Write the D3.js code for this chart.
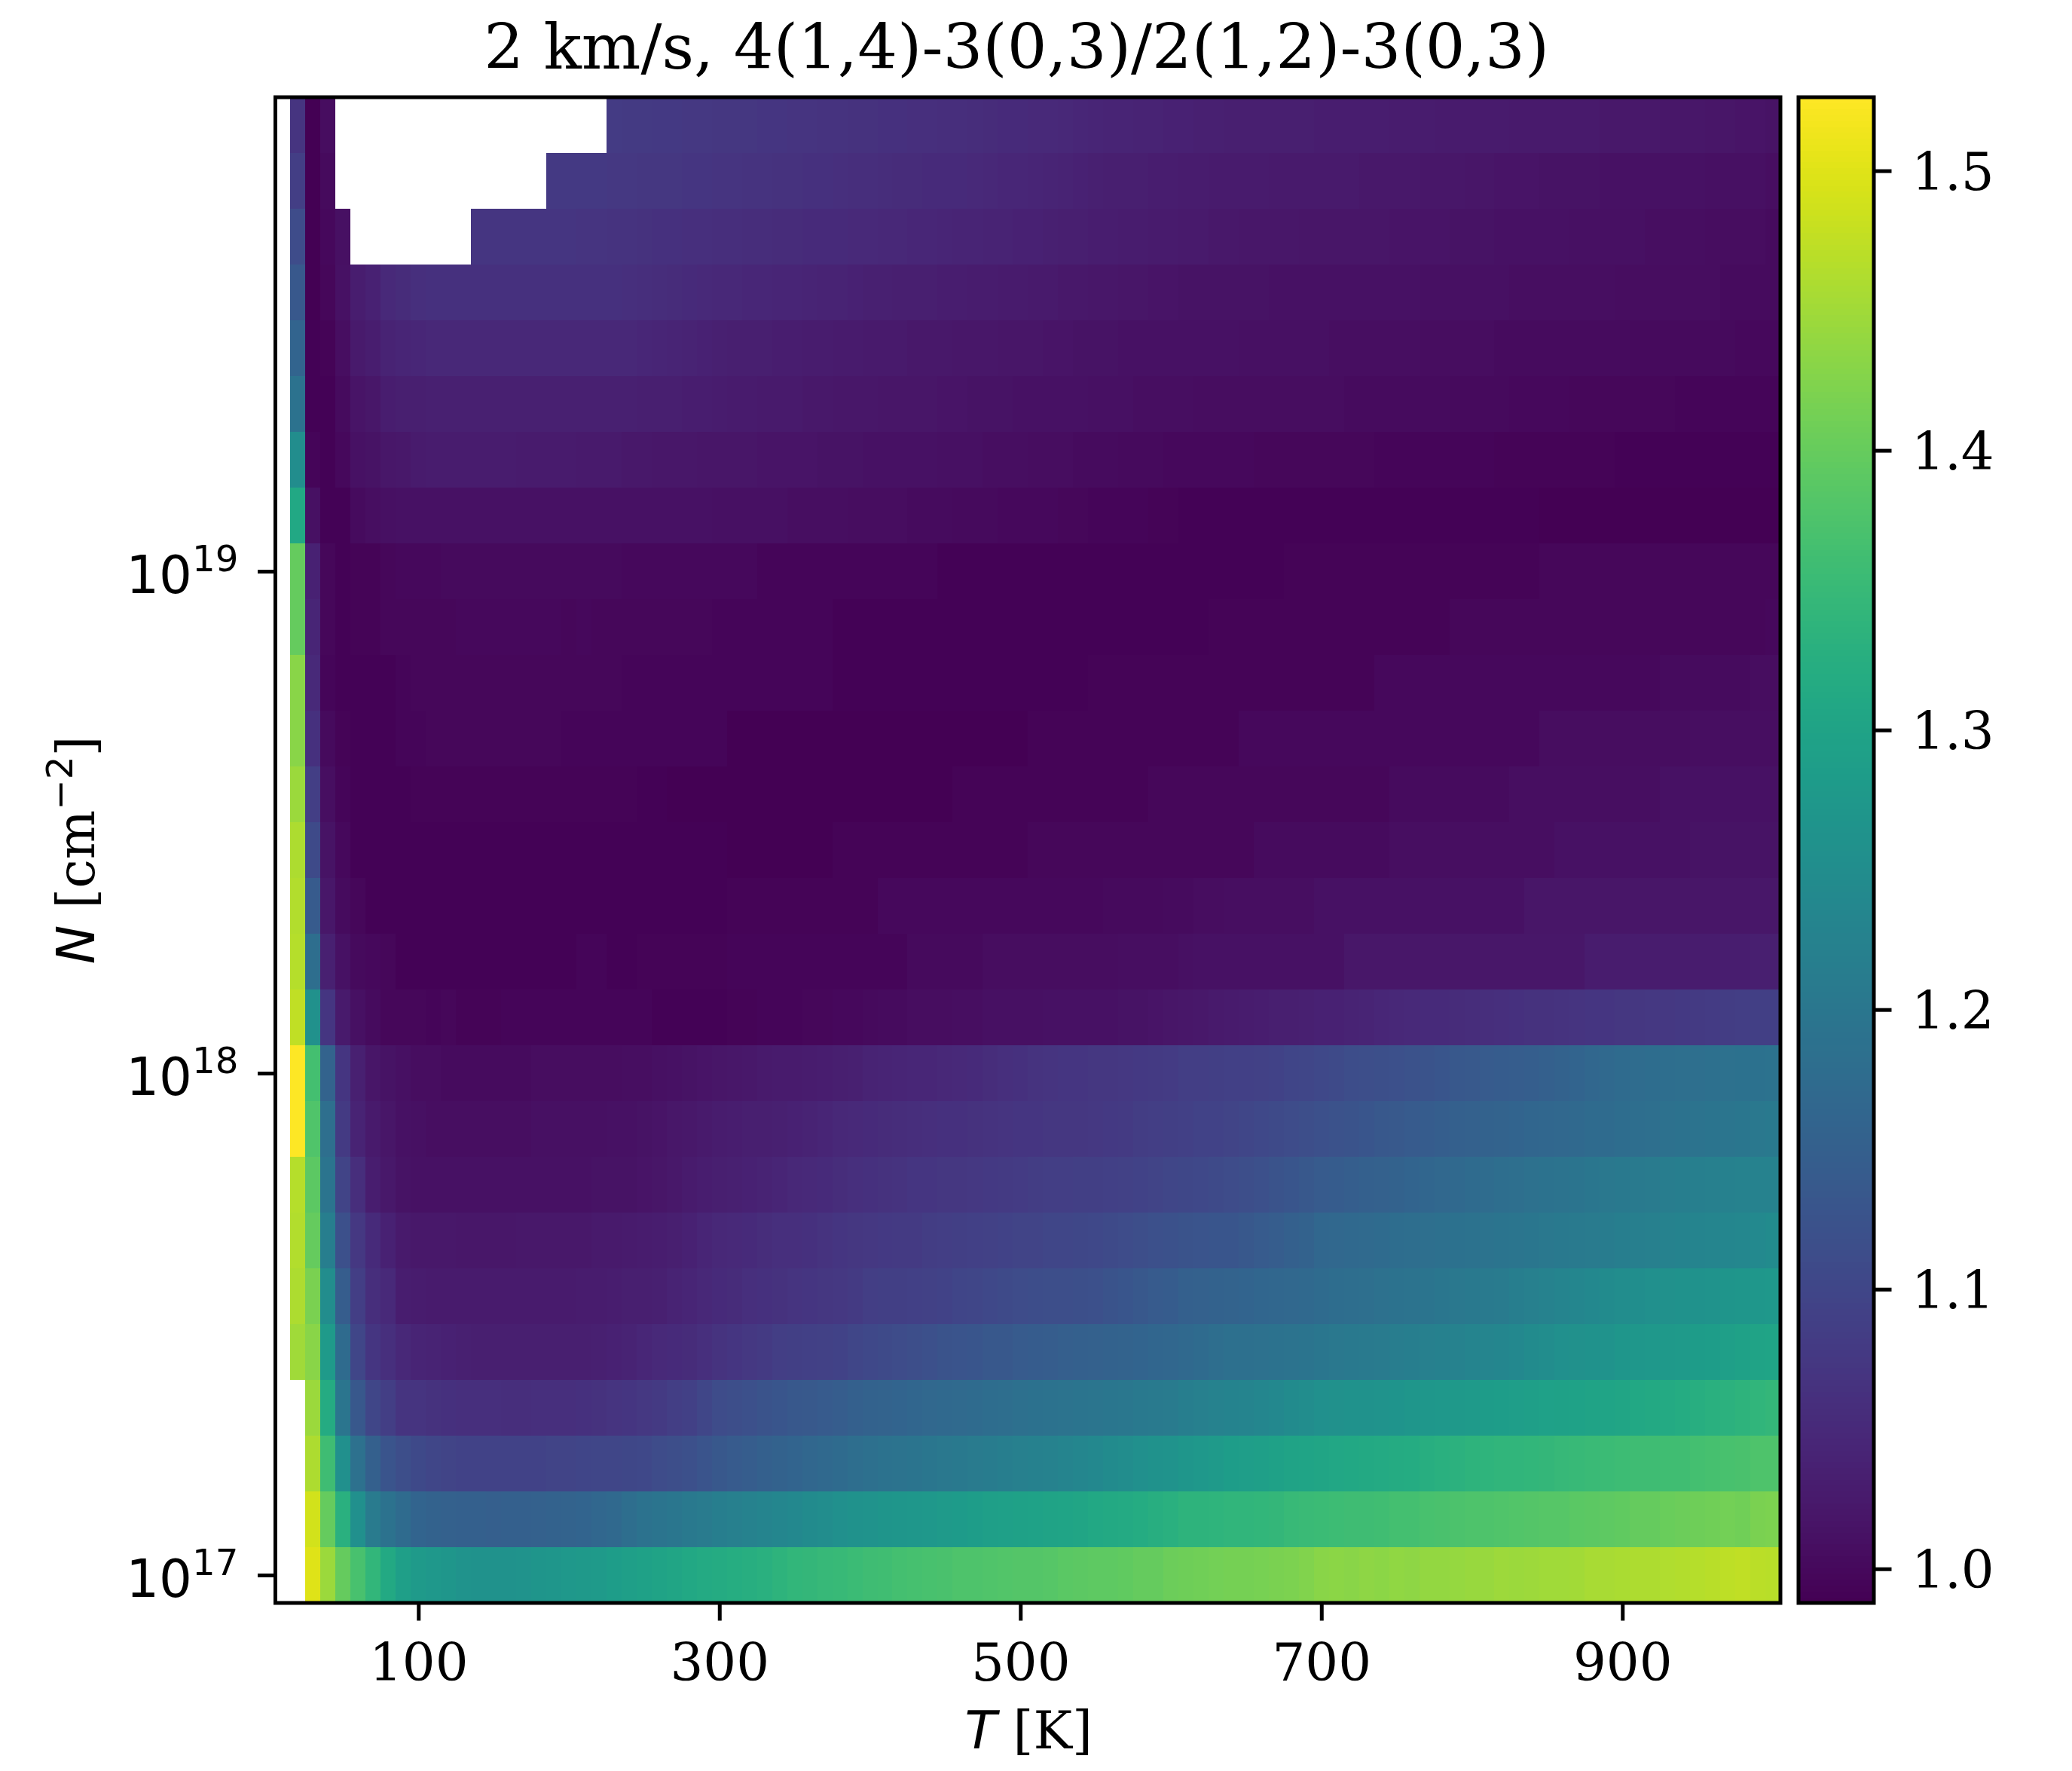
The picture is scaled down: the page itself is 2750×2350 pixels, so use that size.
<!DOCTYPE html>
<html><head><meta charset="utf-8">
<script src="https://cdn.jsdelivr.net/npm/d3@7"></script>
<style>html,body{margin:0;padding:0;background:#fff}svg{display:block}</style>
</head><body><svg id="c" width="2750" height="2350"></svg>
<script>
const TEMPS = d3.range(10, 1001, 10);
const LOG_N = d3.range(0, 27).map(k => 17 + k / 9);
const VMIN = 0.9878, VMAX = 1.5263;
const TITLE = "2 km/s, 4(1,4)-3(0,3)/2(1,2)-3(0,3)";
const X_TICKS = [100, 300, 500, 700, 900];
const Y_TICKS = [17, 18, 19];
const CB_TICKS = [1.0, 1.1, 1.2, 1.3, 1.4, 1.5];

const row00=[null,null,1.5,1.445,1.4,1.37,1.343,1.313,1.29,1.28,1.275,1.27,1.265,1.263,1.262,1.263,1.265,1.268,1.27,1.275,1.278,1.28,1.285,1.29,1.295,1.3,1.305,1.31,1.315,1.318,1.322,1.325,1.33,1.336,1.342,1.345,1.348,1.35,1.355,1.36,1.362,1.365,1.368,1.37,1.372,1.375,1.375,1.378,1.38,1.382,1.383,1.385,1.388,1.39,1.392,1.393,1.395,1.398,1.4,1.405,1.408,1.41,1.412,1.413,1.413,1.416,1.418,1.42,1.425,1.43,1.432,1.43,1.435,1.432,1.436,1.435,1.438,1.44,1.442,1.443,1.443,1.447,1.446,1.448,1.45,1.45,1.452,1.455,1.455,1.458,1.46,1.46,1.462,1.465,1.466,1.468,1.472,1.474,1.47,1.468];
const row01=[null,null,1.49,1.4,1.33,1.255,1.21,1.19,1.175,1.16,1.155,1.152,1.15,1.15,1.148,1.15,1.15,1.152,1.155,1.158,1.16,1.165,1.17,1.18,1.19,1.195,1.2,1.205,1.21,1.215,1.22,1.225,1.23,1.235,1.24,1.245,1.25,1.255,1.26,1.265,1.268,1.27,1.272,1.275,1.28,1.282,1.285,1.29,1.292,1.295,1.298,1.3,1.302,1.305,1.31,1.312,1.315,1.32,1.325,1.33,1.335,1.335,1.337,1.34,1.34,1.342,1.345,1.35,1.352,1.355,1.358,1.36,1.36,1.362,1.365,1.365,1.37,1.372,1.373,1.375,1.375,1.378,1.38,1.382,1.385,1.385,1.388,1.39,1.393,1.395,1.4,1.4,1.403,1.405,1.408,1.41,1.412,1.41,1.418,1.42];
const row02=[null,null,1.46,1.36,1.256,1.187,1.15,1.127,1.116,1.107,1.1,1.097,1.095,1.094,1.094,1.094,1.095,1.095,1.096,1.097,1.098,1.1,1.1,1.103,1.105,1.11,1.115,1.12,1.128,1.135,1.14,1.145,1.15,1.155,1.16,1.165,1.17,1.175,1.18,1.185,1.19,1.193,1.196,1.2,1.203,1.205,1.21,1.212,1.215,1.22,1.222,1.226,1.23,1.235,1.24,1.245,1.25,1.255,1.26,1.265,1.27,1.275,1.28,1.285,1.288,1.29,1.295,1.3,1.303,1.305,1.308,1.31,1.312,1.315,1.318,1.32,1.325,1.33,1.332,1.335,1.337,1.34,1.34,1.342,1.345,1.348,1.35,1.352,1.355,1.358,1.36,1.36,1.362,1.362,1.365,1.368,1.37,1.372,1.375,1.375];
const row03=[null,null,1.445,1.316,1.198,1.133,1.1,1.085,1.068,1.068,1.065,1.062,1.06,1.06,1.06,1.058,1.058,1.06,1.06,1.06,1.062,1.065,1.068,1.07,1.075,1.08,1.085,1.09,1.1,1.11,1.115,1.12,1.125,1.13,1.133,1.137,1.14,1.145,1.15,1.155,1.158,1.16,1.163,1.167,1.17,1.172,1.175,1.178,1.18,1.185,1.188,1.19,1.192,1.195,1.198,1.2,1.202,1.205,1.208,1.21,1.215,1.22,1.225,1.228,1.23,1.235,1.24,1.245,1.25,1.255,1.258,1.26,1.262,1.265,1.267,1.27,1.272,1.275,1.278,1.28,1.283,1.285,1.287,1.29,1.293,1.295,1.298,1.3,1.303,1.305,1.31,1.312,1.315,1.32,1.325,1.33,1.332,1.335,1.34,1.345];
const row04=[null,1.45,1.43,1.28,1.175,1.1,1.07,1.06,1.047,1.042,1.04,1.038,1.036,1.034,1.033,1.033,1.032,1.032,1.032,1.032,1.033,1.035,1.037,1.04,1.045,1.05,1.052,1.055,1.06,1.066,1.07,1.075,1.08,1.085,1.088,1.09,1.092,1.095,1.1,1.105,1.108,1.11,1.115,1.12,1.125,1.128,1.13,1.135,1.135,1.14,1.142,1.145,1.148,1.15,1.152,1.155,1.157,1.16,1.163,1.165,1.17,1.175,1.18,1.185,1.185,1.187,1.19,1.192,1.195,1.2,1.203,1.205,1.208,1.21,1.213,1.217,1.22,1.223,1.226,1.23,1.233,1.235,1.24,1.245,1.25,1.255,1.258,1.26,1.265,1.27,1.272,1.275,1.278,1.28,1.283,1.285,1.29,1.295,1.3,1.302];
const row05=[null,1.46,1.418,1.25,1.145,1.085,1.058,1.05,1.03,1.028,1.027,1.026,1.026,1.026,1.026,1.026,1.027,1.027,1.027,1.027,1.028,1.029,1.03,1.032,1.033,1.036,1.04,1.043,1.048,1.052,1.055,1.06,1.062,1.065,1.068,1.07,1.073,1.075,1.08,1.085,1.087,1.088,1.09,1.092,1.095,1.098,1.1,1.105,1.108,1.11,1.112,1.115,1.115,1.118,1.12,1.125,1.13,1.135,1.14,1.143,1.15,1.152,1.155,1.158,1.16,1.163,1.165,1.168,1.17,1.175,1.178,1.18,1.183,1.186,1.19,1.193,1.196,1.2,1.203,1.205,1.208,1.21,1.215,1.22,1.225,1.23,1.235,1.24,1.245,1.25,1.252,1.255,1.258,1.26,1.263,1.265,1.268,1.27,1.272,1.275];
const row06=[null,1.465,1.4,1.215,1.12,1.075,1.052,1.037,1.025,1.022,1.022,1.022,1.021,1.021,1.021,1.021,1.022,1.022,1.022,1.022,1.023,1.024,1.025,1.026,1.028,1.03,1.033,1.038,1.043,1.047,1.05,1.052,1.056,1.06,1.06,1.063,1.066,1.07,1.072,1.075,1.078,1.08,1.08,1.083,1.085,1.088,1.09,1.092,1.095,1.096,1.097,1.1,1.1,1.102,1.105,1.108,1.11,1.115,1.12,1.122,1.125,1.128,1.13,1.13,1.135,1.14,1.145,1.15,1.155,1.165,1.168,1.17,1.172,1.175,1.178,1.18,1.182,1.185,1.188,1.19,1.192,1.195,1.197,1.2,1.203,1.205,1.207,1.21,1.212,1.215,1.218,1.22,1.225,1.228,1.23,1.233,1.235,1.238,1.242,1.245];
const row07=[null,1.467,1.39,1.196,1.096,1.058,1.03,1.022,1.015,1.012,1.012,1.011,1.011,1.011,1.011,1.011,1.012,1.012,1.012,1.012,1.013,1.014,1.014,1.015,1.016,1.018,1.022,1.026,1.03,1.033,1.036,1.038,1.04,1.043,1.047,1.05,1.053,1.056,1.06,1.063,1.065,1.067,1.07,1.07,1.072,1.074,1.076,1.078,1.08,1.082,1.084,1.085,1.085,1.087,1.088,1.09,1.092,1.095,1.097,1.1,1.102,1.105,1.108,1.11,1.115,1.12,1.125,1.13,1.135,1.14,1.143,1.146,1.15,1.153,1.156,1.16,1.163,1.167,1.17,1.173,1.176,1.18,1.183,1.186,1.19,1.193,1.196,1.2,1.203,1.206,1.208,1.21,1.213,1.215,1.218,1.22,1.222,1.224,1.225,1.226];
const row08=[null,1.525,1.378,1.183,1.08,1.04,1.025,1.018,1.012,1.009,1.008,1.008,1.008,1.008,1.008,1.008,1.008,1.009,1.009,1.009,1.01,1.01,1.011,1.012,1.014,1.017,1.02,1.022,1.025,1.028,1.03,1.032,1.034,1.036,1.038,1.04,1.044,1.048,1.05,1.053,1.055,1.057,1.059,1.06,1.062,1.063,1.065,1.067,1.068,1.07,1.071,1.072,1.073,1.074,1.076,1.078,1.08,1.083,1.085,1.087,1.09,1.093,1.095,1.097,1.1,1.105,1.108,1.11,1.115,1.12,1.123,1.126,1.13,1.133,1.136,1.14,1.143,1.147,1.15,1.153,1.155,1.158,1.16,1.163,1.165,1.168,1.17,1.173,1.175,1.178,1.18,1.183,1.186,1.19,1.193,1.195,1.198,1.2,1.203,1.205];
const row09=[null,1.525,1.365,1.158,1.07,1.035,1.018,1.015,1.01,1.006,1.005,1.004,1.004,1.004,1.004,1.004,1.004,1.005,1.005,1.005,1.005,1.006,1.006,1.007,1.008,1.01,1.012,1.014,1.016,1.018,1.02,1.022,1.024,1.026,1.027,1.028,1.03,1.033,1.036,1.04,1.042,1.044,1.045,1.046,1.048,1.05,1.053,1.056,1.06,1.063,1.066,1.068,1.07,1.07,1.072,1.074,1.076,1.078,1.08,1.082,1.085,1.086,1.088,1.09,1.09,1.092,1.095,1.098,1.1,1.105,1.108,1.112,1.115,1.118,1.12,1.123,1.126,1.13,1.133,1.136,1.14,1.143,1.145,1.147,1.15,1.155,1.16,1.165,1.17,1.175,1.176,1.178,1.18,1.182,1.183,1.185,1.187,1.188,1.189,1.19];
const row10=[null,1.475,1.258,1.07,1.025,1.01,1.003,.998,.998,.998,.995,.998,.993,.993,.993,.995,.995,.995,.995,.995,.995,.995,.995,.995,.995,.992,.992,.992,.992,.992,.993,.994,.995,.995,.996,.997,.998,.999,1,1.002,1.003,1.004,1.005,1.005,1.006,1.007,1.008,1.009,1.009,1.01,1.01,1.011,1.011,1.012,1.012,1.013,1.014,1.015,1.017,1.018,1.02,1.022,1.024,1.026,1.028,1.03,1.032,1.034,1.035,1.037,1.038,1.04,1.042,1.045,1.047,1.05,1.052,1.053,1.055,1.057,1.058,1.06,1.062,1.064,1.065,1.067,1.068,1.07,1.07,1.072,1.074,1.075,1.076,1.078,1.08,1.082,1.083,1.085,1.087,1.088];
const row11=[null,1.467,1.18,1.035,1.012,1.002,1,.998,.992,.992,.992,.992,.992,.992,.992,.992,.992,.992,.992,.992,.995,.995,.992,.992,.994,.994,.994,.994,.994,.994,.996,.996,.996,.996,.996,.996,.996,.996,.996,.996,.996,.996,1.002,1.002,1.002,1.002,1.002,1.005,1.005,1.005,1.005,1.005,1.005,1.005,1.006,1.006,1.007,1.007,1.008,1.008,1.009,1.013,1.013,1.013,1.013,1.013,1.013,1.013,1.013,1.013,1.013,1.02,1.02,1.02,1.02,1.02,1.02,1.02,1.02,1.02,1.02,1.02,1.02,1.02,1.02,1.02,1.02,1.028,1.028,1.028,1.028,1.028,1.028,1.028,1.028,1.028,1.03,1.03,1.032,1.032];
const row12=[null,1.465,1.14,1.02,1.004,.998,.99,.99,.99,.99,.99,.99,.99,.99,.99,.99,.99,.99,.99,.99,.99,.99,.99,.99,.99,.99,.99,.99,.99,.99,.994,.994,.994,.994,.994,.994,.994,.994,.994,.994,.999,.999,.999,.999,.999,.999,.999,.999,.999,.999,.999,.999,.999,.999,.999,1.001,1.001,1.001,1.001,1.004,1.004,1.005,1.006,1.007,1.007,1.007,1.007,1.007,1.007,1.012,1.012,1.012,1.012,1.012,1.012,1.012,1.012,1.012,1.012,1.012,1.012,1.012,1.012,1.018,1.018,1.018,1.018,1.018,1.018,1.018,1.018,1.018,1.018,1.018,1.018,1.018,1.018,1.018,1.02,1.02];
const row13=[null,1.46,1.108,1.015,1,.99,.99,.99,.99,.99,.99,.99,.99,.99,.99,.992,.99,.99,.99,.99,.99,.99,.99,.99,.99,.99,.99,.99,.99,.99,.989,.989,.989,.989,.989,.989,.989,.993,.993,.993,.993,.993,.993,.993,.993,.993,.993,.993,.993,.993,.998,.998,.998,.998,.998,.998,.998,.998,.998,.998,.998,.997,.997,.997,.997,1.003,1.003,1.003,1.003,1.003,1.003,1.003,1.003,1.003,1.008,1.008,1.008,1.008,1.008,1.008,1.008,1.008,1.008,1.008,1.008,1.012,1.012,1.012,1.012,1.012,1.012,1.012,1.012,1.012,1.015,1.015,1.015,1.015,1.015,1.015];
const row14=[null,1.445,1.085,1.008,.995,.991,.991,.991,.991,.993,.993,.993,.993,.993,.993,.993,.993,.993,.993,.993,.993,.993,.993,.993,.991,.991,.989,.989,.988,.988,.988,.988,.988,.988,.988,.988,.988,.988,.988,.988,.988,.988,.988,.988,.988,.994,.994,.994,.994,.994,.994,.994,.994,.994,.994,.994,.994,.994,.997,.997,.997,.997,.997,.997,.997,.998,.998,.998,.998,.998,.998,.998,.998,.998,1.004,1.004,1.004,1.004,1.004,1.004,1.004,1.004,1.007,1.007,1.007,1.007,1.007,1.007,1.007,1.007,1.007,1.007,1.011,1.011,1.011,1.011,1.011,1.011,1.011,1.011];
const row15=[null,1.43,1.063,1.002,.993,.992,.992,.992,.995,.995,.998,.998,.998,.998,.998,.998,.998,.998,.998,.995,.995,.995,.995,.995,.995,.995,.995,.995,.995,.995,.989,.989,.989,.989,.989,.989,.989,.989,.989,.989,.989,.989,.989,.989,.989,.989,.989,.989,.989,.989,.994,.994,.994,.994,.994,.994,.994,.994,.994,.994,.994,.994,.994,.994,.999,.999,.999,.999,.999,.999,.999,.999,.999,.999,.999,.999,.999,.999,.999,.999,.999,.999,.999,.999,1.005,1.005,1.005,1.005,1.005,1.005,1.005,1.005,1.005,1.005,1.008,1.008,1.008,1.008,1.008,1.008];
const row16=[null,1.43,1.05,.996,.992,.992,.992,.992,.995,.997,.997,.997,.997,.997,.997,.997,.997,.997,.997,.997,.997,.997,.997,.995,.996,.996,.996,.996,.996,.996,.996,.996,.996,.996,.996,.996,.996,.991,.991,.991,.991,.991,.991,.991,.991,.991,.991,.991,.991,.991,.991,.991,.991,.991,.994,.994,.994,.994,.994,.994,.994,.994,.994,.994,.994,.994,.994,.994,.994,.994,.994,.994,.994,.999,.999,.999,.999,.999,.999,.999,.999,.999,.999,.999,.999,.999,.999,.999,.999,.999,.999,.999,1.004,1.004,1.004,1.004,1.004,1.004,1.006,1.006];
const row17=[null,1.4,1.043,.997,.992,.993,.993,.997,.997,.997,.997,.997,1,1,1,1,1,1,1,.998,1,.998,.998,.998,.998,.998,.998,.998,.998,.996,.996,.996,.996,.996,.996,.996,.996,.991,.991,.991,.991,.991,.991,.991,.991,.991,.991,.991,.991,.991,.991,.991,.991,.991,.991,.991,.991,.991,.991,.991,.991,.991,.994,.994,.994,.994,.994,.994,.994,.994,.994,.994,.994,.994,.994,.994,.994,.994,.998,.998,.998,.998,.998,.998,.998,.998,.998,.998,.998,.998,.998,.998,.998,.998,.998,.998,.998,.998,.998,1];
const row18=[null,1.4,1.038,.997,.992,.994,.994,.998,1,1,1,1.002,1.002,1.002,1.002,1.002,1.002,1.002,1.002,1.002,1.002,1.002,1.002,1,1,1,1,1,1,1,1,1,.996,.996,.996,.996,.996,.996,.996,.996,.996,.996,.996,.996,.992,.992,.992,.992,.992,.992,.992,.992,.992,.992,.992,.992,.99,.99,.99,.99,.99,.99,.99,.99,.99,.99,.99,.994,.994,.994,.994,.994,.994,.994,.994,.994,.994,.994,.994,.994,.994,.994,.994,.994,.998,.998,.998,.998,.998,.998,.998,.998,.998,.998,.998,.998,.998,.998,.998,.998];
const row19=[null,1.31,1.01,.99,.992,1.004,1.008,1.01,1.012,1.013,1.013,1.013,1.013,1.013,1.013,1.013,1.013,1.013,1.013,1.013,1.013,1.013,1.013,1.012,1.012,1.012,1.011,1.011,1.011,1.01,1.01,1.01,1.009,1.009,1.008,1.008,1.007,1.007,1.006,1.006,1.005,1.005,1.004,1.004,1.003,1.002,1.002,1.001,1,1,.999,.999,.998,.997,.996,.996,.995,.995,.994,.993,.992,.992,.992,.992,.992,.991,.991,.991,.991,.991,.991,.991,.991,.991,.991,.991,.991,.991,.991,.991,.991,.991,.991,.991,.989,.989,.989,.989,.989,.989,.989,.989,.989,.989,.989,.989,.989,.989,.989,.989];
const row20=[null,1.25,.995,.99,1,1.012,1.015,1.02,1.023,1.027,1.028,1.028,1.028,1.028,1.028,1.028,1.027,1.027,1.026,1.026,1.025,1.025,1.024,1.023,1.022,1.021,1.02,1.02,1.019,1.019,1.018,1.018,1.017,1.017,1.016,1.016,1.015,1.014,1.014,1.013,1.012,1.012,1.011,1.011,1.01,1.01,1.009,1.008,1.007,1.007,1.006,1.006,1.005,1.004,1.003,1.003,1.002,1.002,1.001,1,1,1,.999,.999,.999,.998,.998,.998,.997,.997,.997,.997,.997,.996,.996,.996,.996,.996,.995,.995,.995,.994,.994,.993,.993,.993,.993,.993,.993,.992,.992,.992,.992,.992,.992,.992,.992,.992,.992,.992];
const row21=[null,1.19,.99,.992,1.004,1.017,1.02,1.03,1.033,1.034,1.035,1.035,1.035,1.035,1.035,1.035,1.035,1.035,1.035,1.035,1.035,1.035,1.035,1.035,1.034,1.033,1.032,1.03,1.03,1.028,1.027,1.026,1.025,1.024,1.024,1.023,1.022,1.021,1.02,1.02,1.019,1.019,1.018,1.018,1.017,1.016,1.015,1.014,1.014,1.013,1.012,1.012,1.011,1.011,1.01,1.01,1.009,1.008,1.008,1.007,1.007,1.006,1.006,1.006,1.005,1.005,1.005,1.005,1.005,1.005,1.005,1.004,1.004,1.004,1.004,1.003,1.003,1.003,1.002,1.002,1.001,1.001,1,1,.999,.999,.998,.998,.998,.998,.997,.997,.997,.996,.996,.996,.996,.996,.996,.996];
const row22=[null,1.16,.99,.994,1.008,1.025,1.03,1.04,1.044,1.046,1.048,1.048,1.048,1.048,1.048,1.048,1.048,1.048,1.048,1.048,1.048,1.048,1.048,1.048,1.046,1.044,1.042,1.04,1.038,1.036,1.034,1.033,1.032,1.031,1.03,1.029,1.028,1.027,1.026,1.025,1.024,1.024,1.023,1.022,1.022,1.021,1.02,1.02,1.019,1.018,1.018,1.017,1.016,1.015,1.014,1.014,1.013,1.013,1.012,1.012,1.011,1.011,1.011,1.011,1.01,1.01,1.01,1.009,1.009,1.009,1.008,1.008,1.008,1.007,1.007,1.007,1.006,1.006,1.005,1.005,1.005,1.004,1.004,1.004,1.004,1.003,1.003,1.003,1.003,1.003,1.002,1.002,1.002,1.002,1.002,1.001,1.001,1,1,1];
const row23=[null,1.135,.988,.997,1.012,1.03,1.037,1.05,1.055,1.06,1.063,1.063,1.063,1.063,1.063,1.063,1.063,1.063,1.063,1.063,1.063,1.063,1.062,1.06,1.058,1.056,1.054,1.052,1.05,1.048,1.047,1.046,1.045,1.044,1.043,1.042,1.04,1.039,1.037,1.036,1.035,1.034,1.033,1.032,1.031,1.03,1.029,1.028,1.027,1.026,1.025,1.024,1.023,1.022,1.021,1.02,1.019,1.018,1.017,1.016,1.015,1.015,1.015,1.014,1.014,1.014,1.013,1.013,1.013,1.013,1.012,1.012,1.012,1.011,1.011,1.011,1.01,1.01,1.01,1.009,1.009,1.009,1.008,1.008,1.008,1.007,1.007,1.007,1.007,1.006,1.006,1.006,1.005,1.005,1.005,1.005,1.004,1.004,1.003,1.003];
const row24=[null,1.11,.988,1,1.01,null,null,null,null,null,null,null,null,1.07,1.07,1.07,1.07,1.07,1.07,1.07,1.069,1.068,1.067,1.066,1.064,1.063,1.062,1.061,1.06,1.059,1.058,1.057,1.056,1.055,1.054,1.053,1.052,1.051,1.05,1.049,1.048,1.047,1.046,1.045,1.043,1.042,1.041,1.04,1.039,1.038,1.037,1.035,1.034,1.033,1.031,1.03,1.029,1.028,1.027,1.026,1.025,1.024,1.023,1.022,1.021,1.02,1.02,1.02,1.019,1.019,1.019,1.018,1.018,1.018,1.017,1.017,1.016,1.016,1.015,1.014,1.014,1.013,1.012,1.012,1.011,1.011,1.01,1.01,1.01,1.009,1.009,1.008,1.008,1.007,1.007,1.006,1.006,1.005,1.005,1.004];
const row25=[null,1.085,.988,1.002,null,null,null,null,null,null,null,null,null,null,null,null,null,null,1.078,1.078,1.078,1.077,1.076,1.075,1.074,1.073,1.072,1.071,1.07,1.069,1.068,1.067,1.066,1.065,1.064,1.063,1.062,1.06,1.059,1.058,1.057,1.055,1.054,1.053,1.052,1.051,1.05,1.048,1.046,1.045,1.043,1.041,1.04,1.038,1.036,1.034,1.033,1.032,1.031,1.03,1.029,1.028,1.027,1.026,1.026,1.026,1.025,1.025,1.025,1.024,1.024,1.024,1.023,1.023,1.022,1.022,1.021,1.02,1.02,1.019,1.018,1.017,1.017,1.016,1.015,1.014,1.014,1.014,1.013,1.013,1.013,1.012,1.012,1.011,1.011,1.01,1.01,1.009,1.009,1.008];
const row26=[null,1.068,.988,1.005,null,null,null,null,null,null,null,null,null,null,null,null,null,null,null,null,null,null,1.082,1.08,1.079,1.078,1.077,1.076,1.075,1.074,1.073,1.072,1.071,1.07,1.069,1.068,1.067,1.066,1.065,1.064,1.063,1.062,1.061,1.06,1.059,1.058,1.056,1.055,1.053,1.052,1.05,1.049,1.048,1.046,1.044,1.042,1.041,1.04,1.039,1.038,1.037,1.036,1.035,1.034,1.033,1.033,1.032,1.032,1.032,1.031,1.031,1.03,1.03,1.03,1.029,1.028,1.028,1.027,1.027,1.026,1.026,1.026,1.025,1.025,1.025,1.024,1.024,1.024,1.023,1.023,1.022,1.022,1.021,1.02,1.02,1.019,1.018,1.017,1.016,1.014];
const ROWS=[row00,row01,row02,row03,row04,row05,row06,row07,row08,row09,row10,row11,row12,row13,row14,row15,row16,row17,row18,row19,row20,row21,row22,row23,row24,row25,row26];

const L=365.5,R=2363,T=129,B=2127,CL=2387,CR=2487;
const SERIF="'DejaVu Serif'",SANS="'DejaVu Sans'";
const FS=69,LW=5,TL=21;
const halfT=5,halfLog=1/18;
const x=d3.scaleLinear().domain([5,1005]).range([L,R]);
const y=d3.scaleLog().domain([Math.pow(10,17-halfLog),Math.pow(10,20-halfLog)]).range([B,T]);
const c=d3.scaleSequential(d3.interpolateViridis).domain([VMIN,VMAX]).clamp(true);
const cy=d3.scaleLinear().domain([VMIN,VMAX]).range([B,T]);
const svg=d3.select('#c');

const cells=[];
ROWS.forEach((r,k)=>r.forEach((v,i)=>{if(v!==null)cells.push({t:TEMPS[i],l:LOG_N[k],v});}));
svg.append('g').attr('shape-rendering','crispEdges').selectAll('rect').data(cells).join('rect')
 .attr('x',d=>x(d.t-halfT)).attr('width',d=>x(d.t+halfT)-x(d.t-halfT))
 .attr('y',d=>y(Math.pow(10,d.l+halfLog))).attr('height',d=>y(Math.pow(10,d.l-halfLog))-y(Math.pow(10,d.l+halfLog)))
 .attr('fill',d=>c(d.v));

// colour bar
const levels=d3.range(256).map(i=>VMIN+(VMAX-VMIN)*(i+.5)/256);
const step=(VMAX-VMIN)/256;
svg.append('g').attr('shape-rendering','crispEdges').selectAll('rect').data(levels).join('rect')
 .attr('x',CL).attr('width',CR-CL)
 .attr('y',d=>cy(d+step/2)).attr('height',d=>cy(d-step/2)-cy(d+step/2)+.5)
 .attr('fill',d=>c(d));

const frame=(a,b)=>svg.append('rect').attr('x',a).attr('y',T).attr('width',b-a).attr('height',B-T)
 .attr('fill','none').attr('stroke','#000').attr('stroke-width',LW);
frame(L,R);frame(CL,CR);

function style(g){g.select('.domain').remove();g.selectAll('.tick line').attr('stroke','#000').attr('stroke-width',LW);}

const gx=svg.append('g').attr('transform',`translate(0,${B})`)
 .call(d3.axisBottom(x).tickValues(X_TICKS).tickSize(TL+LW/2).tickPadding(14).tickFormat(d3.format('d')));
style(gx);gx.selectAll('text').attr('font-family',SERIF).attr('font-size',FS).attr('fill','#000').attr('dy',null).attr('y',103).attr('dominant-baseline','auto');

const gy=svg.append('g').attr('transform',`translate(${L},0)`)
 .call(d3.axisLeft(y).tickValues(Y_TICKS.map(e=>Math.pow(10,e))).tickSize(TL+LW/2).tickFormat(''));
style(gy);
gy.selectAll('.tick').each(function(d){
  const t=d3.select(this).append('text').attr('font-family',SANS).attr('fill','#000').attr('text-anchor','end')
   .attr('x',-49).attr('y',28).attr('font-size',FS);
  t.append('tspan').text('10');
  t.append('tspan').attr('font-size',FS*.7).attr('dy',-29).text(Math.round(Math.log10(d)));
});

const gc=svg.append('g').attr('transform',`translate(${CR},0)`)
 .call(d3.axisRight(cy).tickValues(CB_TICKS).tickSize(TL+LW/2).tickFormat(d3.format('.1f')));
style(gc);gc.selectAll('text').attr('font-family',SERIF).attr('font-size',FS).attr('fill','#000').attr('x',50).attr('dy',null).attr('y',25);

svg.append('text').attr('x',(L+R)/2-15).attr('y',91).attr('text-anchor','middle')
 .attr('font-family',SERIF).attr('font-size',83).attr('fill','#000').text(TITLE);

const xl=svg.append('text').attr('x',(L+R)/2+1).attr('y',2320).attr('text-anchor','middle').attr('font-size',FS).attr('fill','#000').attr('font-family',SERIF);
xl.append('tspan').attr('font-family',SANS).attr('font-style','italic').text('T');
xl.append('tspan').text(' [K]');

const yl=svg.append('text').attr('transform',`translate(125,${(T+B)/2}) rotate(-90)`).attr('text-anchor','middle').attr('font-size',FS).attr('fill','#000').attr('font-family',SERIF);
yl.append('tspan').attr('font-family',SANS).attr('font-style','italic').text('N');
yl.append('tspan').text(' [cm');
yl.append('tspan').attr('font-family',SANS).attr('font-size',FS*.7).attr('dy',-29).text('\u22122');
yl.append('tspan').attr('dy',29).text(']');
</script></body></html>
